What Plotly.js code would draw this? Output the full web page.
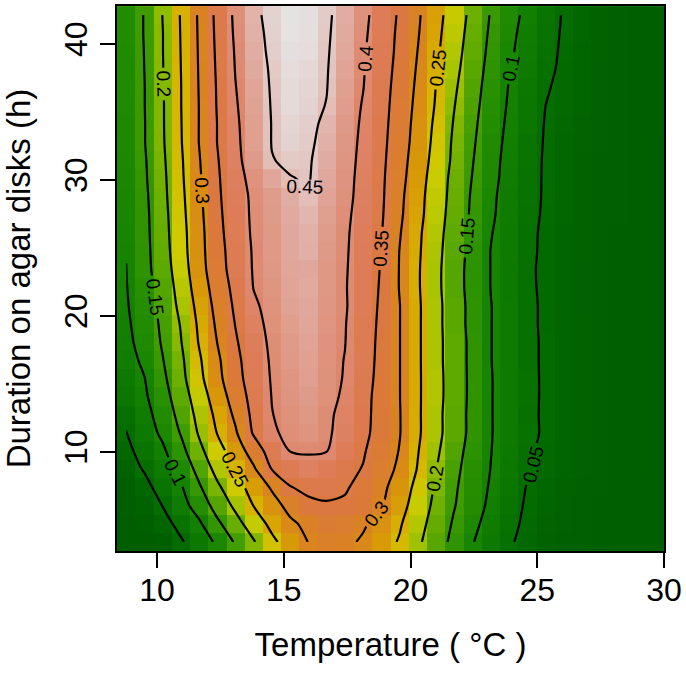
<!DOCTYPE html>
<html>
<head>
<meta charset="utf-8">
<script src="https://cdn.plot.ly/plotly-3.0.1.min.js"></script>
<style>
html, body { margin: 0; padding: 0; background: #ffffff; }
#chart { width: 686px; height: 673px; }
</style>
</head>
<body>
<div id="chart"></div>
<script>
// Temperature (°C) at grid-cell centres (columns)
const temperature = [8.78, 9.50, 10.22, 10.94, 11.66, 12.38, 13.10, 13.81, 14.53, 15.25,
  15.97, 16.69, 17.41, 18.13, 18.85, 19.57, 20.29, 21.01, 21.73, 22.45,
  23.17, 23.89, 24.61, 25.33, 26.05, 26.77, 27.48, 28.20, 28.92, 29.64];

// Duration on agar disks (h) at grid-cell centres (rows, bottom to top)
const duration = [3.39, 4.73, 6.06, 7.40, 8.73, 10.07, 11.41, 12.74, 14.08, 15.41,
  16.75, 18.09, 19.42, 20.76, 22.09, 23.43, 24.77, 26.10, 27.44, 28.77,
  30.11, 31.45, 32.78, 34.12, 35.45, 36.79, 38.13, 39.46, 40.80, 42.13];

// Fitted response, one row per duration (bottom to top), one value per temperature
const response = [
  [0.006,0.012,0.022,0.045,0.075,0.108,0.156,0.196,0.240,0.272,0.301,0.313,0.310,0.294,0.270,0.246,0.208,0.172,0.137,0.102,0.077,0.054,0.040,0.032,0.027,0.023,0.020,0.017,0.015,0.013],
  [0.010,0.019,0.035,0.063,0.093,0.141,0.183,0.225,0.262,0.292,0.311,0.328,0.321,0.306,0.283,0.255,0.217,0.180,0.144,0.111,0.083,0.059,0.043,0.034,0.028,0.024,0.021,0.018,0.016,0.013],
  [0.015,0.028,0.051,0.082,0.121,0.169,0.210,0.251,0.282,0.314,0.340,0.345,0.343,0.332,0.304,0.268,0.227,0.188,0.152,0.121,0.090,0.065,0.045,0.036,0.030,0.026,0.022,0.019,0.017,0.014],
  [0.022,0.038,0.066,0.095,0.144,0.192,0.231,0.269,0.305,0.348,0.360,0.364,0.355,0.335,0.311,0.278,0.236,0.194,0.156,0.125,0.095,0.070,0.048,0.038,0.032,0.027,0.023,0.020,0.017,0.014],
  [0.032,0.053,0.079,0.114,0.166,0.215,0.252,0.293,0.351,0.372,0.388,0.378,0.361,0.348,0.321,0.291,0.247,0.201,0.161,0.129,0.099,0.076,0.054,0.042,0.035,0.029,0.025,0.021,0.018,0.015],
  [0.040,0.065,0.092,0.135,0.188,0.232,0.273,0.323,0.372,0.401,0.403,0.401,0.378,0.354,0.327,0.298,0.252,0.208,0.167,0.133,0.101,0.078,0.055,0.043,0.036,0.030,0.025,0.021,0.018,0.015],
  [0.049,0.077,0.109,0.153,0.205,0.252,0.295,0.355,0.395,0.408,0.414,0.405,0.388,0.361,0.332,0.302,0.257,0.214,0.174,0.137,0.102,0.080,0.059,0.045,0.037,0.031,0.026,0.022,0.019,0.016],
  [0.058,0.085,0.119,0.166,0.214,0.262,0.309,0.362,0.399,0.411,0.418,0.406,0.391,0.363,0.333,0.302,0.257,0.214,0.174,0.137,0.102,0.080,0.058,0.045,0.037,0.031,0.026,0.022,0.019,0.016],
  [0.070,0.093,0.131,0.176,0.225,0.275,0.322,0.368,0.401,0.414,0.421,0.410,0.395,0.365,0.333,0.301,0.257,0.216,0.176,0.138,0.102,0.080,0.059,0.045,0.037,0.031,0.026,0.022,0.019,0.016],
  [0.078,0.099,0.140,0.186,0.238,0.287,0.333,0.374,0.403,0.415,0.425,0.411,0.398,0.368,0.336,0.301,0.257,0.216,0.176,0.138,0.102,0.080,0.059,0.045,0.037,0.031,0.026,0.022,0.019,0.016],
  [0.086,0.107,0.148,0.191,0.244,0.292,0.338,0.377,0.405,0.419,0.427,0.412,0.399,0.370,0.338,0.301,0.257,0.214,0.176,0.137,0.101,0.079,0.058,0.045,0.037,0.031,0.026,0.022,0.019,0.016],
  [0.090,0.115,0.155,0.198,0.253,0.301,0.345,0.383,0.407,0.421,0.429,0.413,0.401,0.372,0.339,0.301,0.257,0.214,0.176,0.137,0.101,0.079,0.058,0.045,0.037,0.031,0.026,0.022,0.019,0.016],
  [0.093,0.120,0.159,0.203,0.258,0.308,0.352,0.388,0.410,0.424,0.432,0.415,0.402,0.373,0.341,0.301,0.257,0.214,0.173,0.135,0.101,0.079,0.058,0.044,0.037,0.031,0.026,0.022,0.019,0.016],
  [0.096,0.125,0.164,0.212,0.265,0.315,0.358,0.394,0.413,0.428,0.434,0.417,0.404,0.375,0.343,0.301,0.257,0.214,0.173,0.135,0.101,0.079,0.058,0.044,0.036,0.030,0.026,0.022,0.019,0.016],
  [0.098,0.130,0.169,0.219,0.274,0.322,0.364,0.401,0.416,0.431,0.436,0.418,0.403,0.377,0.345,0.298,0.255,0.212,0.170,0.133,0.099,0.078,0.057,0.043,0.036,0.030,0.026,0.022,0.019,0.016],
  [0.0995,0.135,0.175,0.226,0.281,0.330,0.370,0.403,0.418,0.432,0.434,0.418,0.404,0.378,0.347,0.298,0.255,0.212,0.170,0.133,0.099,0.077,0.056,0.043,0.036,0.030,0.026,0.022,0.019,0.016],
  [0.101,0.136,0.179,0.231,0.284,0.333,0.372,0.404,0.419,0.433,0.440,0.420,0.405,0.380,0.349,0.299,0.257,0.214,0.173,0.135,0.099,0.079,0.057,0.044,0.036,0.031,0.026,0.022,0.019,0.016],
  [0.102,0.137,0.182,0.233,0.285,0.336,0.376,0.406,0.420,0.434,0.442,0.422,0.406,0.382,0.352,0.303,0.259,0.217,0.176,0.139,0.102,0.080,0.058,0.044,0.037,0.031,0.026,0.022,0.019,0.016],
  [0.104,0.138,0.184,0.236,0.288,0.339,0.379,0.407,0.421,0.436,0.446,0.426,0.408,0.385,0.355,0.308,0.264,0.221,0.180,0.142,0.106,0.082,0.061,0.045,0.038,0.032,0.027,0.023,0.020,0.017],
  [0.106,0.140,0.187,0.239,0.291,0.342,0.381,0.408,0.422,0.438,0.4495,0.429,0.411,0.387,0.357,0.311,0.266,0.224,0.183,0.144,0.108,0.083,0.062,0.046,0.038,0.032,0.027,0.023,0.020,0.017],
  [0.108,0.143,0.189,0.242,0.294,0.344,0.385,0.413,0.432,0.449,0.452,0.434,0.413,0.388,0.358,0.316,0.270,0.228,0.185,0.148,0.112,0.085,0.063,0.046,0.038,0.032,0.027,0.023,0.020,0.017],
  [0.110,0.145,0.192,0.244,0.297,0.347,0.389,0.421,0.449,0.454,0.453,0.437,0.415,0.390,0.360,0.320,0.275,0.233,0.190,0.152,0.114,0.087,0.065,0.046,0.038,0.032,0.027,0.023,0.020,0.017],
  [0.112,0.148,0.195,0.247,0.301,0.351,0.391,0.425,0.451,0.458,0.455,0.441,0.417,0.392,0.362,0.324,0.280,0.237,0.192,0.156,0.118,0.089,0.066,0.047,0.039,0.033,0.028,0.024,0.020,0.017],
  [0.113,0.148,0.196,0.248,0.301,0.351,0.393,0.426,0.451,0.459,0.456,0.445,0.420,0.394,0.364,0.327,0.283,0.241,0.196,0.160,0.122,0.092,0.069,0.048,0.040,0.034,0.028,0.024,0.021,0.018],
  [0.115,0.149,0.196,0.249,0.301,0.353,0.396,0.428,0.452,0.461,0.458,0.449,0.423,0.397,0.366,0.330,0.287,0.246,0.201,0.164,0.127,0.095,0.072,0.050,0.041,0.035,0.029,0.025,0.021,0.018],
  [0.116,0.149,0.197,0.249,0.302,0.354,0.399,0.431,0.453,0.461,0.459,0.451,0.426,0.401,0.368,0.333,0.291,0.249,0.206,0.168,0.131,0.098,0.076,0.053,0.042,0.035,0.029,0.025,0.021,0.018],
  [0.117,0.1502,0.198,0.250,0.303,0.356,0.402,0.435,0.454,0.463,0.460,0.452,0.429,0.403,0.371,0.336,0.295,0.254,0.212,0.173,0.135,0.102,0.079,0.057,0.044,0.036,0.030,0.025,0.021,0.018],
  [0.118,0.151,0.199,0.251,0.304,0.358,0.404,0.438,0.456,0.465,0.463,0.453,0.433,0.405,0.374,0.339,0.299,0.258,0.217,0.178,0.139,0.107,0.082,0.060,0.045,0.037,0.031,0.026,0.022,0.019],
  [0.119,0.152,0.199,0.252,0.305,0.360,0.407,0.441,0.457,0.467,0.464,0.454,0.436,0.408,0.376,0.341,0.303,0.262,0.222,0.182,0.143,0.111,0.085,0.063,0.046,0.038,0.031,0.026,0.022,0.019],
  [0.120,0.152,0.201,0.253,0.306,0.362,0.409,0.444,0.458,0.468,0.465,0.455,0.438,0.411,0.379,0.344,0.306,0.266,0.226,0.187,0.147,0.116,0.089,0.066,0.047,0.038,0.031,0.026,0.022,0.019]
];

const xTicks = [10, 15, 20, 25, 30];
const yTicks = [10, 20, 30, 40];

// ---- styling ----
const zMax = 0.47;
const colorStops = [
  [0.000, 'rgb(0,92,0)'],
  [0.030, 'rgb(0,98,0)'],
  [0.050, 'rgb(5,110,0)'],
  [0.080, 'rgb(14,122,0)'],
  [0.100, 'rgb(22,132,0)'],
  [0.130, 'rgb(40,144,0)'],
  [0.160, 'rgb(70,160,0)'],
  [0.190, 'rgb(115,178,0)'],
  [0.210, 'rgb(165,195,0)'],
  [0.230, 'rgb(205,205,0)'],
  [0.250, 'rgb(215,180,0)'],
  [0.270, 'rgb(216,155,5)'],
  [0.300, 'rgb(217,132,30)'],
  [0.340, 'rgb(219,120,62)'],
  [0.380, 'rgb(221,124,88)'],
  [0.400, 'rgb(222,136,110)'],
  [0.415, 'rgb(223,149,128)'],
  [0.430, 'rgb(224,164,150)'],
  [0.445, 'rgb(225,180,172)'],
  [0.455, 'rgb(227,204,200)'],
  [0.462, 'rgb(228,220,218)'],
  [0.470, 'rgb(229,229,229)']
];
const colorscale = colorStops.map(s => [s[0] / zMax, s[1]]);

const FONT = 'Liberation Sans, Arial, Helvetica, sans-serif';

const heat = {
  type: 'heatmap',
  x: temperature,
  y: duration,
  z: response,
  colorscale: colorscale,
  zmin: 0,
  zmax: zMax,
  zsmooth: false,
  showscale: false,
  hoverinfo: 'skip'
};

const lines = {
  type: 'contour',
  x: temperature,
  y: duration,
  z: response,
  autocontour: false,
  contours: {
    start: 0.05, end: 0.451, size: 0.05,
    coloring: 'none',
    showlabels: true,
    labelfont: { family: FONT, size: 19, color: '#000000' },
    labelformat: '.2~f'
  },
  line: { color: '#000000', width: 2.2, smoothing: 0.8 },
  showscale: false,
  hoverinfo: 'skip'
};

const axisCommon = {
  ticks: 'outside',
  ticklen: 15,
  tickwidth: 2,
  tickcolor: '#000000',
  showline: true,
  linecolor: '#000000',
  linewidth: 2,
  mirror: true,
  showgrid: false,
  zeroline: false,
  tickfont: { family: FONT, size: 32, color: '#000000' }
};

const layout = {
  width: 686,
  height: 673,
  margin: { l: 117, r: 22, t: 6, b: 122 },
  paper_bgcolor: '#ffffff',
  plot_bgcolor: '#ffffff',
  showlegend: false,
  xaxis: Object.assign({}, axisCommon, {
    range: [8.42, 30.0],
    tickvals: xTicks,
    ticktext: xTicks.map(String),
    ticklabelstandoff: -5,
    title: { text: 'Temperature ( °C )', font: { family: FONT, size: 33, color: '#000000' }, standoff: 25 }
  }),
  yaxis: Object.assign({}, axisCommon, {
    range: [2.72, 42.8],
    tickvals: yTicks,
    ticktext: yTicks.map(String),
    tickangle: -90,
    title: { text: 'Duration on agar disks (h)', font: { family: FONT, size: 33, color: '#000000' }, standoff: 19 }
  })
};

Plotly.newPlot('chart', [heat, lines], layout, { displayModeBar: false, staticPlot: true });
</script>
</body>
</html>
